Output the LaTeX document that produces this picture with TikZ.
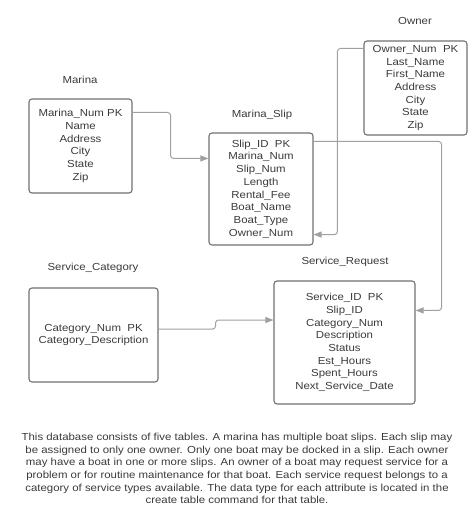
\documentclass[tikz,border=0pt]{standalone}
\usepackage{fontspec}
\setmainfont{Liberation Sans}[FakeStretch=1.12]
\usetikzlibrary{positioning,arrows.meta}

\definecolor{txtgray}{HTML}{3A3A3A}
\definecolor{boxgray}{HTML}{707070}
\definecolor{linkgray}{HTML}{A0A0A0}

\begin{document}
\begin{tikzpicture}[x=1pt,y=-1pt,font=\fontsize{10.2}{12.7}\selectfont,text=txtgray]
    \tikzstyle{table}=[draw=boxgray,line width=1.1pt,rounded corners=3pt,align=center,inner sep=0pt]
    \tikzstyle{title}=[align=center,inner sep=0pt]
    \tikzstyle{link}=[draw=linkgray,line width=1pt,rounded corners=3pt,-{Triangle[length=8pt,width=6pt]}]

    \useasboundingbox (0,0) rectangle (473,527);

    % tables
    \node[table,minimum width=103pt,minimum height=94pt] (marina) at (80.5,146)
        {Marina\_Num PK\\Name\\Address\\City\\State\\Zip};
    \node[table,minimum width=104pt,minimum height=112pt] (slip) at (261,189)
        {Slip\_ID\ \ PK\\Marina\_Num\\Slip\_Num\\Length\\Rental\_Fee\\Boat\_Name\\Boat\_Type\\Owner\_Num};
    \node[table,minimum width=103pt,minimum height=94pt] (owner) at (415.5,88)
        {Owner\_Num\ \ PK\\Last\_Name\\First\_Name\\Address\\City\\State\\Zip};
    \node[table,minimum width=129pt,minimum height=94pt] (category) at (93.5,335)
        {Category\_Num\ \ PK\\Category\_Description};
    \node[table,minimum width=141pt,minimum height=123pt] (request) at (344.5,342.5)
        {Service\_ID\ \ PK\\Slip\_ID\\Category\_Num\\Description\\Status\\Est\_Hours\\Spent\_Hours\\Next\_Service\_Date};

    % table names
    \node[title] (marinaT) at (80,80) {Marina};
    \node[title] (slipT) at (262,115) {Marina\_Slip};
    \node[title] (ownerT) at (415,21) {Owner};
    \node[title] (categoryT) at (93,268) {Service\_Category};
    \node[title] (requestT) at (345,262) {Service\_Request};

    % relationships
    \draw[link] ([yshift=-14pt]marina.north east) -- ++(38,0) |- ([yshift=-26pt]slip.north west);
    \draw[link] ([yshift=-8pt]owner.north west) -- ++(-26,0) |- ([yshift=11pt]slip.south east);
    \draw[link] ([yshift=-9pt]slip.north east) -- ++(128,0) |- ([yshift=-30pt]request.north east);
    \draw[link] ([yshift=6pt]category.east) -- ++(57,0) |- ([yshift=22.5pt]request.west);

    \node[align=center,inner sep=0pt] (note) at (237,468.5)
        {This database consists of five tables. A marina has multiple boat slips. Each slip may\\
         be assigned to only one owner. Only one boat may be docked in a slip. Each owner\\
         may have a boat in one or more slips. An owner of a boat may request service for a\\
         problem or for routine maintenance for that boat. Each service request belongs to a\\
         category of service types available. The data type for each attribute is located in the\\
         create table command for that table.};
\end{tikzpicture}
\end{document}
